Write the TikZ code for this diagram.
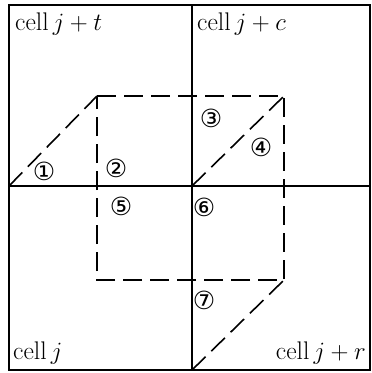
\documentclass[tikz,border=0pt]{standalone}
\usepackage{fontspec}
\newfontfamily\circfont{DejaVu Sans}
\usetikzlibrary{calc}

\tikzset{
  cellline/.style={line width=1.8pt},
  fluxline/.style={line width=1.6pt, dash pattern=on 19pt off 8pt},
  celllabel/.style={font=\fontsize{25.5}{30}\selectfont, inner sep=0pt},
  numlabel/.style={font=\circfont\fontsize{25}{30}\selectfont, inner sep=0pt}
}

\begin{document}
\begin{tikzpicture}[x=1pt, y=-1pt]
  \useasboundingbox (0,0) rectangle (372,373);
  % grid of four cells
  \coordinate (sw) at (9,370);
  \coordinate (ne) at (370,5);
  \coordinate (ml) at (9,186);
  \coordinate (mr) at (370,186);
  \coordinate (mt) at (192,5);
  \coordinate (mb) at (192,370);
  \coordinate (mc) at (192,186);
  \draw[cellline] (sw) rectangle (ne);
  \draw[cellline] (ml) -- (mr);
  \draw[cellline] (mt) -- (mb);

  % shifted cell and its paths
  \coordinate (a) at (97,96);
  \coordinate (b) at (284,96);
  \coordinate (c) at (284,280);
  \coordinate (d) at (97,280);
  \draw[fluxline] (a) -- (b) -- (c) -- (d) -- cycle;
  \draw[fluxline] (ml) -- (a);
  \draw[fluxline] (mc) -- (b);
  \draw[fluxline] (mb) -- (c);

  % labels
  \node[celllabel, anchor=west] (lt) at (15,24) {cell\,$j+t$};
  \node[celllabel, anchor=west] (lc) at (197,24) {cell\,$j+c$};
  \node[celllabel, anchor=west] (lj) at (13,353) {cell\,$j$};
  \node[celllabel, anchor=east] (lr) at (366,353) {cell\,$j+r$};

  \node[numlabel] (n1) at (44,171) {①};
  \node[numlabel] (n2) at (116,168) {②};
  \node[numlabel] (n3) at (211,118) {③};
  \node[numlabel] (n4) at (261,147) {④};
  \node[numlabel] (n5) at (121,206) {⑤};
  \node[numlabel] (n6) at (204,207) {⑥};
  \node[numlabel] (n7) at (204,300) {⑦};
\end{tikzpicture}
\end{document}
